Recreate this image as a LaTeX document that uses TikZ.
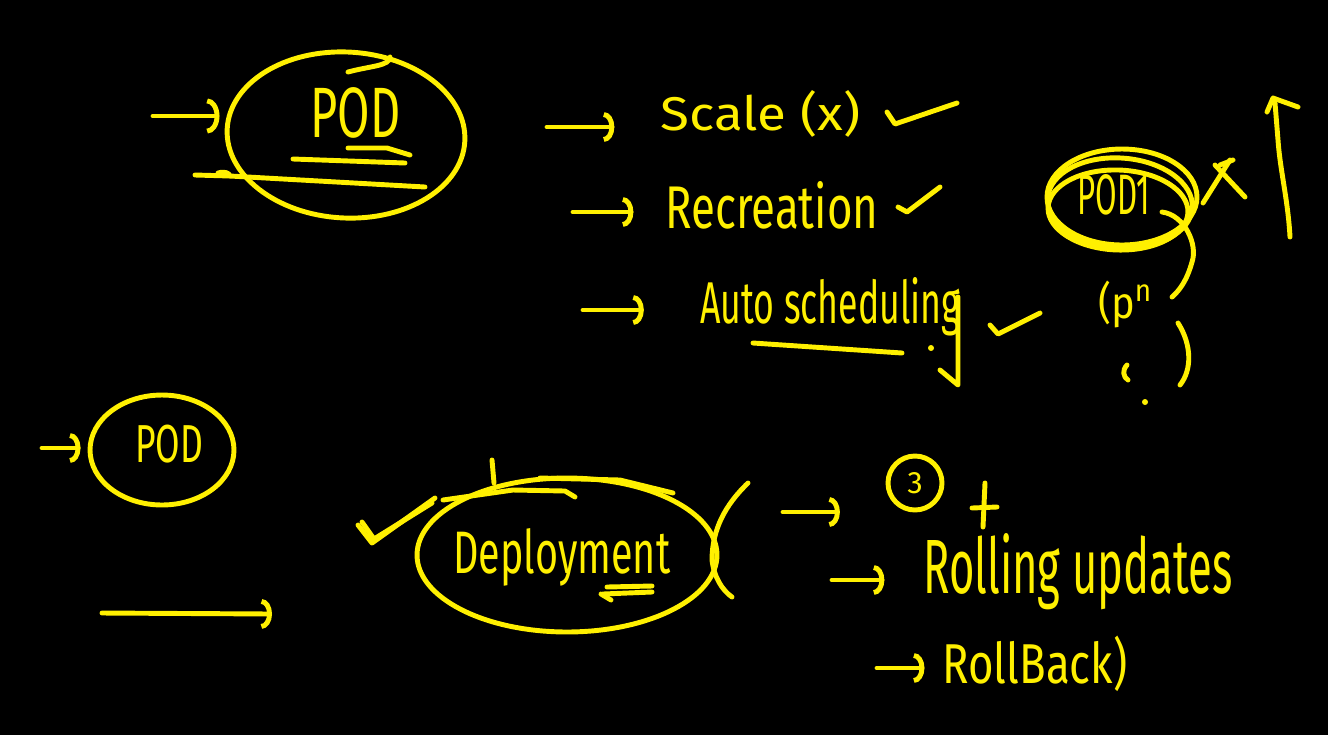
\documentclass[tikz,border=0pt]{standalone}
\usepackage{fontspec}
\usepackage{graphicx}
\setmainfont{Fira Sans}
\usetikzlibrary{arrows.meta,shapes.geometric}
\definecolor{ink}{RGB}{255,240,0}
\begin{document}
\begin{tikzpicture}[x=0.02cm,y=-0.02cm, line cap=round, line join=round,
  stroke/.style={draw=ink, line width=2.8pt},
  txt/.style={text=ink, inner sep=0pt, anchor=base west},
  arr/.style={draw=ink, line width=2.8pt, -{Arc Barb[length=6pt,width=17pt]}},
  bigarr/.style={draw=ink, line width=2.8pt, -{Arc Barb[length=7pt,width=20pt]}},
  oval/.style={ellipse, draw=ink, line width=2.8pt, inner sep=0pt}]
\useasboundingbox (0,0) rectangle (1328,735);
\fill[black] (0,0) rectangle (1328,735);

% ---------- top POD ----------
\node[oval, minimum width=4.76cm, minimum height=3.32cm, rotate=-3] (podA) at (346,135) {};
\node[txt] (podAt) at (310,137) {\resizebox{1.8cm}{1.0cm}{POD}};
\coordinate (a0) at (153,116);
\draw[bigarr, shorten >=3pt] (a0) -- (a0 -| podA.west);
\draw[stroke] (348,72) .. controls (370,66) and (390,66) .. (390,57);
\draw[stroke] (293,159) -- (405,163);
\draw[stroke] (348,148) -- (387,148) -- (410,155);
\draw[stroke] (195,175) -- (230,176) -- (425,187);
\draw[stroke] (218,173) .. controls (225,171) and (229,173) .. (230,176);

% ---------- list ----------
\node[txt] (scale) at (660,130) {\resizebox{4cm}{0.8cm}{Scale (x)}};
\node[txt] (recr) at (665,228) {\resizebox{4.26cm}{0.94cm}{Recreation}};
\node[txt] (auto) at (700,323) {\resizebox{5.2cm}{0.92cm}{Auto scheduling}};
\coordinate (s1) at (547,127);
\coordinate (s2) at (573,212);
\coordinate (s3) at (583,310);
\draw[arr, shorten >=26pt] (s1) -- (s1 -| scale.west);
\draw[arr, shorten >=18pt] (s2) -- (s2 -| recr.west);
\draw[arr, shorten >=32pt] (s3) -- (s3 -| auto.west);
% checks
\draw[stroke] (887,112) -- (895,124) -- (957,103);
\draw[stroke] (898,207) -- (907,212) -- (940,187);
\draw[stroke] (990,325) -- (998,334) -- (1040,313);
% underline and down arrow
\draw[stroke] (753,343) -- (902,353);
\draw[stroke] (958,297) -- (958,385) -- (940,370);
\fill[ink] (931,348) circle (3);

% ---------- POD1 ----------
\node[oval, minimum width=3cm, minimum height=1.92cm] (pod1) at (1122,197) {};
\node[oval, minimum width=2.9cm, minimum height=1.8cm, rotate=-4] (pod1b) at (1120,203) {};
\node[oval, minimum width=2.8cm, minimum height=1.6cm, rotate=-2] (pod1c) at (1118,210) {};
\node[txt] (pod1t) at (1077,214) {\resizebox{1.46cm}{0.8cm}{POD1}};
\draw[stroke] (1162,212) .. controls (1185,215) and (1198,245) .. (1192,262) .. controls (1187,280) and (1180,290) .. (1172,297);
\node[txt] (pn) at (1098,318) {\resizebox{1.1cm}{0.75cm}{(p\textsuperscript{n}}};
\draw[stroke] (1178,323) .. controls (1192,345) and (1192,370) .. (1180,385);
\draw[stroke] (1127,365) .. controls (1122,370) and (1123,377) .. (1128,380);
\fill[ink] (1145,402) circle (3);
% x-like mark
\draw[stroke] (1203,203) -- (1230,160);
\draw[stroke] (1215,165) -- (1245,197);
\draw[stroke] (1220,165) -- (1233,160);
% up arrow
\draw[stroke] (1290,237) .. controls (1288,200) and (1280,170) .. (1278,140) -- (1275,103);
\draw[stroke] (1267,112) -- (1273,98) -- (1298,107);

% ---------- bottom POD ----------
\node[oval, minimum width=2.88cm, minimum height=2.2cm] (podB) at (162,450) {};
\node[txt] (podBt) at (135,462) {\resizebox{1.36cm}{0.75cm}{POD}};
\coordinate (b0) at (42,448);
\draw[arr, shorten >=4pt] (b0) -- (b0 -| podB.west);
\coordinate (b1) at (102,613);
\coordinate (b2) at (272,614);
\draw[arr] (b1) -- (b2);

% ---------- Deployment ----------
\node[oval, minimum width=6cm, minimum height=3.08cm] (dep) at (567,555) {};
\node[txt] (dept) at (453,573) {\resizebox{4.34cm}{0.9cm}{Deployment}};
\draw[stroke] (540,478) -- (620,480) -- (673,493);
\draw[stroke] (443,500) -- (513,490) -- (565,491) -- (575,497);
\draw[stroke] (492,460) -- (494,483);
\draw[stroke] (748,483) .. controls (725,505) and (712,530) .. (712,560) .. controls (714,577) and (722,590) .. (732,597);
\draw[stroke] (358,525) -- (372,543) -- (435,498);
\draw[stroke] (362,522) -- (374,539) -- (432,503);
\draw[stroke] (652,586) -- (607,587);
\draw[stroke] (603,594) -- (652,592);
\draw[stroke] (611,600) -- (601,594);

% ---------- features ----------
\node[circle, draw=ink, line width=2.8pt, minimum size=1.08cm, inner sep=0pt, text=ink] (three) at (915,483) {\resizebox{!}{0.42cm}{3}};
\draw[stroke] (985,483) -- (983,527);
\draw[stroke] (972,508) -- (997,507);
\node[txt] (roll) at (923,593) {\resizebox{6.18cm}{1.2cm}{Rolling updates}};
\node[txt] (back) at (942,683) {\resizebox{3.7cm}{0.95cm}{RollBack)}};
\coordinate (f1) at (783,512);
\coordinate (f2) at (832,580);
\coordinate (f3) at (877,668);
\draw[arr, shorten >=26pt] (f1) -- (f1 -| three.west);
\draw[arr, shorten >=22pt] (f2) -- (f2 -| roll.west);
\draw[arr, shorten >=10pt] (f3) -- (f3 -| back.west);
\end{tikzpicture}
\end{document}
